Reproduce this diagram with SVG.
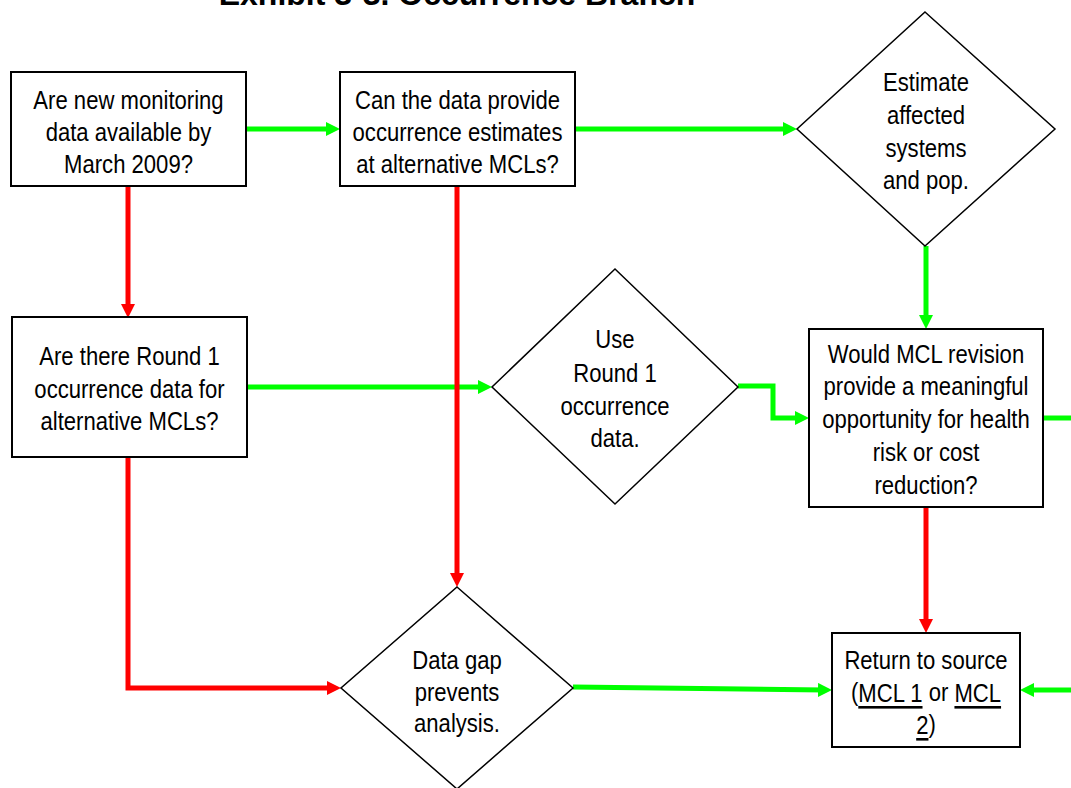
<svg xmlns="http://www.w3.org/2000/svg" width="1071" height="788" viewBox="0 0 1071 788">
<style>
.box{fill:#fff;stroke:#000;stroke-width:2}
.dia{fill:#fff;stroke:#000;stroke-width:1.5}
.t{font-family:"Liberation Sans",Arial,sans-serif;font-size:26px;fill:#000;text-anchor:middle;dominant-baseline:central}
.g{fill:none;stroke:#00ff00;stroke-width:5}
.r{fill:none;stroke:#ff0000;stroke-width:5}
.title{font-family:"Liberation Sans",Arial,sans-serif;font-size:32px;font-weight:bold;text-anchor:middle}
</style>
<defs>
<marker id="ag" markerUnits="userSpaceOnUse" markerWidth="16" markerHeight="16" refX="6" refY="7" orient="auto"><path d="M0,0 L14,7 L0,14 z" fill="#00ff00"/></marker>
<marker id="ar" markerUnits="userSpaceOnUse" markerWidth="16" markerHeight="16" refX="6" refY="7" orient="auto"><path d="M0,0 L14,7 L0,14 z" fill="#ff0000"/></marker>
</defs>
<rect width="1071" height="788" fill="#fff"/>
<text class="title" x="457" y="5">Exhibit 3-3. Occurrence Branch</text>
<g id="connectors">
<path class="g" d="M246,129 H332" marker-end="url(#ag)"/>
<path class="g" d="M575,129 H789" marker-end="url(#ag)"/>
<path class="g" d="M926,246 V321" marker-end="url(#ag)"/>
<path class="g" d="M247,387 H484" marker-end="url(#ag)"/>
<path class="g" d="M738,386 H773 V418 H801" marker-end="url(#ag)"/>
<path class="g" d="M1043,418 H1071"/>
<path class="g" d="M573,687 L824,690" marker-end="url(#ag)"/>
<path class="g" d="M1071,690 H1028" marker-end="url(#ag)"/>
<path class="r" d="M128,186 V310" marker-end="url(#ar)"/>
<path class="r" d="M457,186 V579" marker-end="url(#ar)"/>
<path class="r" d="M128,457 V688 H333" marker-end="url(#ar)"/>
<path class="r" d="M926,507 V625" marker-end="url(#ar)"/>
</g>
<g id="n1">
<rect class="box" x="11" y="72" width="235" height="114"/>
<text class="t" transform="translate(128.5,100) scale(0.85,1)">Are new monitoring</text>
<text class="t" transform="translate(128.5,132) scale(0.85,1)">data available by</text>
<text class="t" transform="translate(128.5,164) scale(0.85,1)">March 2009?</text>
</g>
<g id="n2">
<rect class="box" x="340" y="72" width="235" height="114"/>
<text class="t" transform="translate(457.5,100) scale(0.85,1)">Can the data provide</text>
<text class="t" transform="translate(457.5,132) scale(0.85,1)">occurrence estimates</text>
<text class="t" transform="translate(457.5,164) scale(0.85,1)">at alternative MCLs?</text>
</g>
<g id="n3">
<polygon class="dia" points="925,12 1055,129 925,246 797,129"/>
<text class="t" transform="translate(926,82) scale(0.85,1)">Estimate</text>
<text class="t" transform="translate(926,115) scale(0.85,1)">affected</text>
<text class="t" transform="translate(926,148) scale(0.85,1)">systems</text>
<text class="t" transform="translate(926,180) scale(0.85,1)">and pop.</text>
</g>
<g id="n4">
<rect class="box" x="12" y="317" width="235" height="140"/>
<text class="t" transform="translate(129.5,356) scale(0.85,1)">Are there Round 1</text>
<text class="t" transform="translate(129.5,389) scale(0.85,1)">occurrence data for</text>
<text class="t" transform="translate(129.5,421) scale(0.85,1)">alternative MCLs?</text>
</g>
<g id="n5">
<polygon class="dia" points="615,269 738,387 615,504 492,387"/>
<text class="t" transform="translate(615,339) scale(0.85,1)">Use</text>
<text class="t" transform="translate(615,373) scale(0.85,1)">Round 1</text>
<text class="t" transform="translate(615,406) scale(0.85,1)">occurrence</text>
<text class="t" transform="translate(615,438) scale(0.85,1)">data.</text>
</g>
<g id="n6">
<rect class="box" x="809" y="329" width="234" height="178"/>
<text class="t" transform="translate(926,354) scale(0.85,1)">Would MCL revision</text>
<text class="t" transform="translate(926,386) scale(0.85,1)">provide a meaningful</text>
<text class="t" transform="translate(926,419) scale(0.85,1)">opportunity for health</text>
<text class="t" transform="translate(926,452) scale(0.85,1)">risk or cost</text>
<text class="t" transform="translate(926,485) scale(0.85,1)">reduction?</text>
</g>
<g id="n7">
<polygon class="dia" points="457,587 573,688 457,789 341,688"/>
<text class="t" transform="translate(457,660) scale(0.85,1)">Data gap</text>
<text class="t" transform="translate(457,692) scale(0.85,1)">prevents</text>
<text class="t" transform="translate(457,723) scale(0.85,1)">analysis.</text>
</g>
<g id="n8">
<rect class="box" x="832" y="633" width="188" height="114"/>
<text class="t" transform="translate(926,660) scale(0.85,1)">Return to source</text>
<text class="t" transform="translate(926,692) scale(0.85,1)">(<tspan text-decoration="underline">MCL 1</tspan> or <tspan text-decoration="underline">MCL</tspan></text>
<text class="t" transform="translate(926,724) scale(0.85,1)"><tspan text-decoration="underline">2</tspan>)</text>
</g>
</svg>
